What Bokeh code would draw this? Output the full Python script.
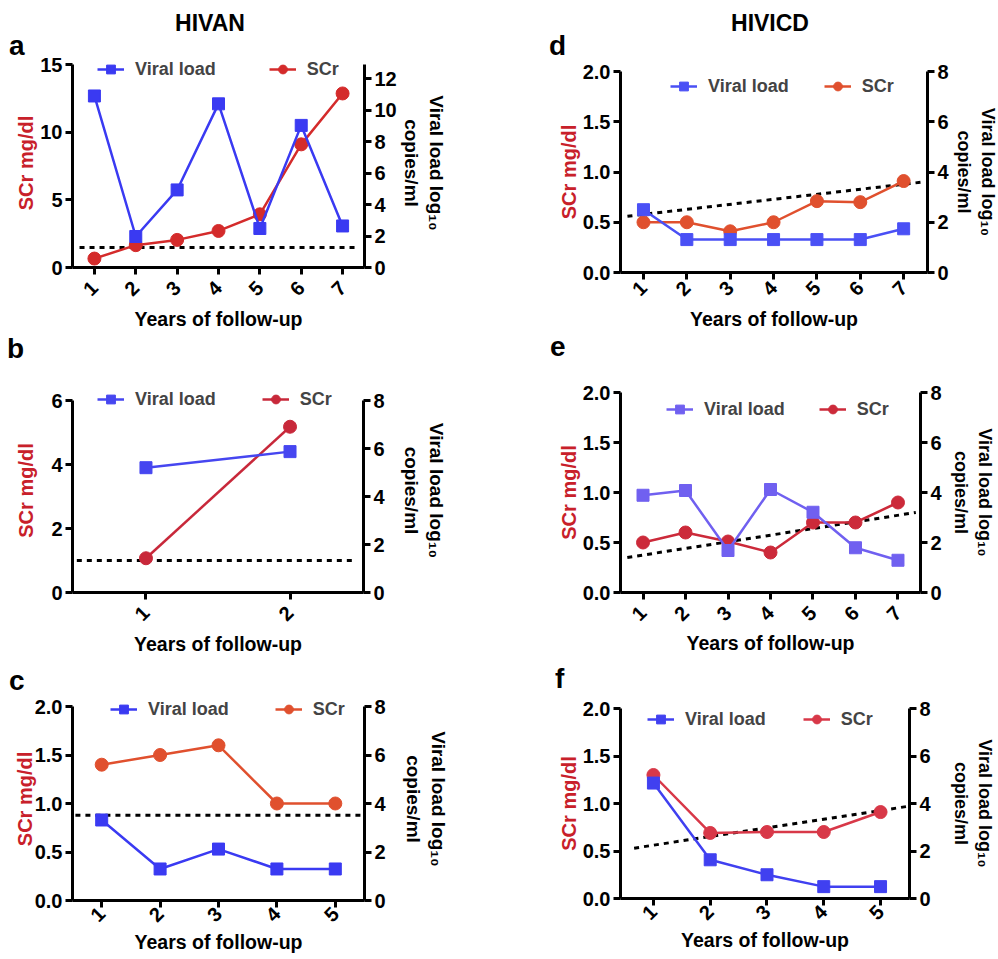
from math import pi
from bokeh.plotting import figure
from bokeh.models import (Range1d, LinearAxis, FixedTicker, Legend, LegendItem,
                          PrintfTickFormatter, Div, Spacer)
from bokeh.layouts import row, column
from bokeh.embed import file_html
from bokeh.resources import INLINE

FONT = "Liberation Sans"

# ---------------- data ----------------
years_a = [1, 2, 3, 4, 5, 6, 7]
scr_a = [0.66, 1.65, 2.04, 2.70, 3.93, 9.10, 12.86]
vl_a = [10.90, 1.97, 4.93, 10.40, 2.48, 9.03, 2.64]
ref_a_x = [0.64, 7.36]
ref_a_y = [1.48, 1.48]

years_b = [1, 2]
scr_b = [1.07, 5.18]
vl_b = [5.20, 5.87]
ref_b_x = [0.52, 2.46]
ref_b_y = [1.0, 1.0]

years_c = [1, 2, 3, 4, 5]
scr_c = [1.40, 1.50, 1.60, 1.00, 1.00]
vl_c = [3.32, 1.30, 2.12, 1.30, 1.30]
ref_c_x = [0.55, 5.47]
ref_c_y = [0.88, 0.88]

years_d = [1, 2, 3, 4, 5, 6, 7]
scr_d = [0.50, 0.50, 0.41, 0.50, 0.71, 0.70, 0.91]
vl_d = [2.50, 1.31, 1.31, 1.31, 1.31, 1.31, 1.74]
trend_d_x = [0.63, 7.44]
trend_d_y = [0.56, 0.90]

years_e = [1, 2, 3, 4, 5, 6, 7]
scr_e = [0.50, 0.60, 0.51, 0.40, 0.70, 0.70, 0.90]
vl_e = [3.89, 4.08, 1.68, 4.12, 3.21, 1.79, 1.29]
trend_e_x = [0.63, 7.42]
trend_e_y = [0.35, 0.80]

years_f = [1, 2, 3, 4, 5]
scr_f = [1.30, 0.69, 0.70, 0.70, 0.91]
vl_f = [4.86, 1.63, 1.00, 0.50, 0.50]
trend_f_x = [0.66, 5.48]
trend_f_y = [0.53, 0.97]

ticks_scr_a = [0, 5, 10, 15]
ticks_vl_a = [0, 2, 4, 6, 8, 10, 12]
ticks_scr_b = [0, 2, 4, 6]
ticks_scr_small = [0, 0.5, 1.0, 1.5, 2.0]
ticks_vl = [0, 2, 4, 6, 8]

headers = ["HIVAN", "HIVICD"]
letters = ["a", "b", "c", "d", "e", "f"]


def style_axis(ax):
    ax.axis_line_width = 3
    ax.axis_line_color = "black"
    ax.major_tick_line_width = 3
    ax.major_tick_line_color = "black"
    ax.major_tick_out = 7
    ax.major_tick_in = 0
    ax.minor_tick_line_color = None
    ax.major_label_standoff = 3
    ax.major_label_text_font = FONT
    ax.major_label_text_font_style = "bold"
    ax.major_label_text_font_size = "20px"
    ax.major_label_text_color = "black"
    ax.axis_label_text_font = FONT
    ax.axis_label_text_font_style = "bold"
    ax.axis_label_text_font_size = "19.5px"
    ax.axis_label_text_color = "black"


def ext(r, et, fh):
    return (r[0], r[1] + (r[1] - r[0]) * et / fh)


def band(width, height, items):
    """Text band (panel letters / column headers) placed with CSS."""
    parts = []
    for (left, top, w, txt, size, align) in items:
        parts.append(
            f'<div style="position:absolute;left:{left}px;top:{top}px;'
            f'width:{w}px;text-align:{align};font-size:{size}px;'
            f'line-height:1;">{txt}</div>')
    html = (f'<div style="position:relative;width:{width}px;height:{height}px;'
            f"font-family:'{FONT}';font-weight:bold;color:black;"
            f'overflow:visible;">' + "".join(parts) + '</div>')
    return Div(text=html, width=width, height=height, margin=0)


def panel(years, scr, vl, lx, ly, xr, yl, ylt, yr, yrt, fmt, geom, blue, red,
          leg, stand, rfont="19px"):
    fl, fw, fr, top, fh, fb, et = geom
    ylab_so, xms, xas, rso = stand
    p = figure(frame_width=fw, frame_height=fh + et, min_border_left=fl,
               min_border_right=fr, min_border_top=top - et,
               min_border_bottom=fb,
               x_range=Range1d(*xr), y_range=Range1d(*ext(yl, et, fh)),
               output_backend="svg", toolbar_location=None,
               background_fill_color="white", border_fill_color=None,
               outline_line_color=None)
    p.xgrid.visible = False
    p.ygrid.visible = False
    p.extra_y_ranges = {"vl": Range1d(*ext(yr, et, fh))}

    ya = p.yaxis[0]
    style_axis(ya)
    ya.bounds = yl
    ya.ticker = FixedTicker(ticks=ylt)
    if fmt:
        ya.formatter = PrintfTickFormatter(format=fmt)
    ya.axis_label = "SCr mg/dl"
    ya.axis_label_text_color = "#c8202a"
    ya.axis_label_text_font_size = "20px"
    ya.axis_label_standoff = ylab_so

    xa = p.xaxis[0]
    style_axis(xa)
    xa.ticker = FixedTicker(ticks=years)
    xa.major_label_orientation = pi / 4
    xa.major_label_standoff = xms
    xa.axis_label = "Years of follow-up"
    xa.axis_label_standoff = xas

    ra = LinearAxis(y_range_name="vl", ticker=FixedTicker(ticks=yrt),
                    axis_label="Viral load log\u2081\u2080\ncopies/ml")
    style_axis(ra)
    ra.bounds = yr
    ra.axis_label_text_font_size = rfont
    ra.axis_label_standoff = rso
    p.add_layout(ra, "right")

    p.line(lx, ly, line_color="black", line_width=3, line_dash="5 5")

    sl = p.line(years, scr, line_color=red, line_width=2.5)
    sp = p.scatter(years, scr, marker="circle", size=13, fill_color=red,
                   line_color=red)
    vl_l = p.line(years, vl, y_range_name="vl", line_color=blue, line_width=2.5)
    vl_p = p.scatter(years, vl, y_range_name="vl", marker="square", size=12,
                     fill_color=blue, line_color=blue)

    lx0, lyc, spacing = leg
    legend = Legend(items=[LegendItem(label="Viral load", renderers=[vl_l, vl_p]),
                           LegendItem(label="SCr", renderers=[sl, sp])],
                    location=(lx0, lyc - 11), orientation="horizontal",
                    background_fill_alpha=0, border_line_color=None,
                    label_text_font=FONT, label_text_font_style="bold",
                    label_text_font_size="18px", glyph_width=27,
                    glyph_height=22, label_height=22, label_standoff=11,
                    spacing=spacing, padding=0, margin=0)
    p.add_layout(legend, "center")
    return p


# left column
ba = band(492, 44, [(5, 4.5, 400, headers[0], 23, "center"),
                    (4, 25.3, 40, letters[0], 28, "left")])
pa = panel(years_a, scr_a, vl_a, ref_a_x, ref_a_y, (0.47, 7.53), (0, 15),
           ticks_scr_a, (0, 12.9), ticks_vl_a, None,
           (62, 292, 138, 13, 203, 64, 6), "#3a3af2", "#d42b2b",
           (25, 198, 53), (0, 10, 3, 1))
bb = band(492, 33, [(2, 2.3, 40, letters[1], 28, "left")])
pb = panel(years_b, scr_b, vl_b, ref_b_x, ref_b_y, (0.49, 2.51), (0, 6),
           ticks_scr_b, (0, 8), ticks_vl, None,
           (64, 291, 137, 34, 192, 64, 12), "#4646f0", "#c8283a",
           (25, 193, 46), (11, 10, 3, 13))
bc = band(492, 34, [(4, 9.3, 40, letters[2], 28, "left")])
pc = panel(years_c, scr_c, vl_c, ref_c_x, ref_c_y, (0.5, 5.5), (0, 2),
           ticks_scr_small, (0, 8), ticks_vl, "%.1f",
           (67, 292, 133, 14, 194, 54, 9), "#3a3af2", "#e0502e",
           (38, 191, 46), (-4, 3, 0, 14))

# right column
bd = band(495, 44, [(73, 4.5, 400, headers[1], 23, "center"),
                    (52, 25.3, 40, letters[3], 28, "left")])
pd = panel(years_d, scr_d, vl_d, trend_d_x, trend_d_y, (0.47, 7.55), (0, 2),
           ticks_scr_small, (0, 8), ticks_vl, "%.1f",
           (120, 307, 68, 20, 201, 61, 0), "#4a50f5", "#e0502e",
           (50, 186, 35), (0, 5, 3, 2), rfont="18px")
be = band(495, 28, [(53, 0.3, 40, letters[4], 28, "left")])
pe = panel(years_e, scr_e, vl_e, trend_e_x, trend_e_y, (0.47, 7.53), (0, 2),
           ticks_scr_small, (0, 8), ticks_vl, "%.1f",
           (123, 300, 72, 31, 200, 63, 0), "#7060f0", "#cc2a3a",
           (46, 183, 34), (0, 10, 2, 6), rfont="18px")
bf = band(495, 36, [(58, 8.3, 40, letters[5], 28, "left")])
pf = panel(years_f, scr_f, vl_f, trend_f_x, trend_f_y, (0.42, 5.51), (0, 2),
           ticks_scr_small, (0, 8), ticks_vl, "%.1f",
           (123, 289, 83, 15, 190, 54, 0), "#4040f0", "#d83848",
           (27, 179, 37), (0, 3, 0, 17), rfont="18px")

layout = row(Spacer(width=5, height=10),
             column(Spacer(width=10, height=7), ba, pa, bb, pb, bc, pc),
             column(Spacer(width=10, height=7), bd, pd, be, pe, bf, pf))
open("out.html", "w").write(file_html(layout, INLINE))
